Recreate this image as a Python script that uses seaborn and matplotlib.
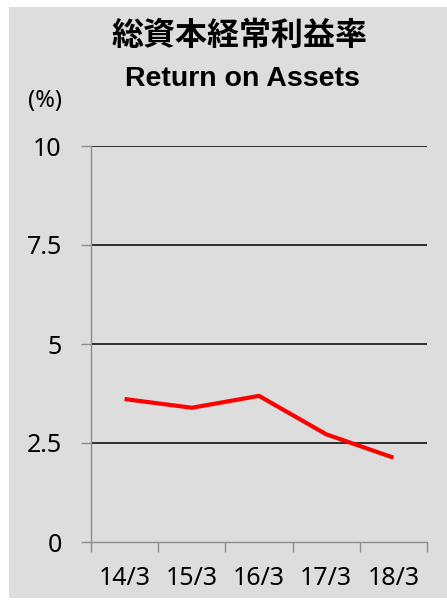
import matplotlib
matplotlib.use("Agg")
import matplotlib.pyplot as plt
import seaborn as sns
import pandas as pd
from matplotlib.patches import Rectangle
from matplotlib.ticker import FixedLocator

categories = ["14/3", "15/3", "16/3", "17/3", "18/3"]
values = [3.61, 3.39, 3.69, 2.72, 2.13]
y_ticks = [0, 2.5, 5, 7.5, 10]
y_tick_labels = ["0", "2.5", "5", "7.5", "10"]

title_jp = "総資本経常利益率"
title_en = "Return on Assets"
unit_label = "(%)"

sns.set_theme(style="white")
plt.rcParams['font.family'] = ['Noto Sans', 'Noto Sans CJK JP', 'DejaVu Sans']

W, H = 447, 609
fig = plt.figure(figsize=(W / 100, H / 100), dpi=100)
fig.patch.set_facecolor("white")
bg = "#dddddd"
fig.patches.append(Rectangle((9 / W, 11 / H), 1 - 9 / W, (H - 7 - 11) / H,
                             transform=fig.transFigure, facecolor=bg,
                             edgecolor="none", zorder=-5))

ax = fig.add_axes([91 / W, (H - 542) / H, (427 - 91) / W, (542 - 146) / H])
ax.set_zorder(2)
ax.set_facecolor(bg)
ax.patch.set_alpha(0)

df = pd.DataFrame({"x": list(range(len(categories))), "y": values})
sns.lineplot(data=df, x="x", y="y", ax=ax, color="#ff0000", linewidth=3.0,
             solid_capstyle="butt", zorder=3)

ax.set_xlim(-0.5, len(categories) - 0.5)
ax.set_ylim(0, 10)
ax.set_yticks(y_ticks)
ax.set_yticklabels(y_tick_labels)
ax.set_xticks(range(len(categories)))
ax.set_xticklabels(categories)
ax.xaxis.set_minor_locator(FixedLocator([i - 0.5 for i in range(len(categories) + 1)]))
ax.tick_params(axis="x", which="major", length=0, pad=17, labelsize=18, colors="black")
ax.tick_params(axis="x", which="minor", length=7, width=1, color="#8c8c8c", bottom=True)
ax.tick_params(axis="y", which="major", length=7, width=1, color="#8c8c8c",
               left=True, pad=14, labelsize=18, labelcolor="black")
ax.set_xlabel("")
ax.set_ylabel("")

for y in y_ticks[1:]:
    ax.axhline(y, color="black", linewidth=1.1, zorder=1)

for s in ["top", "right"]:
    ax.spines[s].set_visible(False)
for s in ["left", "bottom"]:
    ax.spines[s].set_color("#8c8c8c")
    ax.spines[s].set_linewidth(1.0)

fig.text(240 / W, 1 - 36 / H, title_jp, ha="center", va="center",
         fontsize=23, fontweight="bold", family=['Noto Sans CJK JP'], color="black")
fig.text(242 / W, 1 - 79 / H, title_en, ha="center", va="center",
         fontsize=20.5, fontweight="bold", family=['Liberation Sans', 'DejaVu Sans'], color="black")
fig.text(45 / W, 1 - 101 / H, unit_label, ha="center", va="center",
         fontsize=17, family=['Noto Sans', 'DejaVu Sans'], color="black")

fig.savefig("out.png", dpi=100, facecolor=fig.get_facecolor())
